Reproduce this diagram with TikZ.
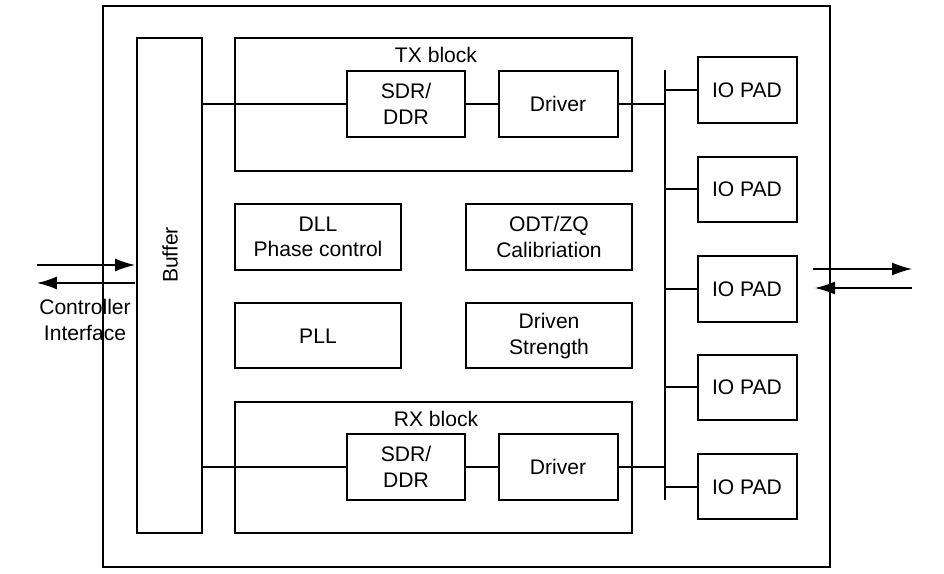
\documentclass[tikz,border=0pt]{standalone}
\usepackage{fontspec}
\setmainfont{Liberation Sans}
\usetikzlibrary{arrows.meta}
\tikzset{blk/.style={draw,thick,inner sep=0pt,align=center},
	lbl/.style={inner sep=0pt,align=center},
	io/.style={-{Latex[length=0.4cm,width=0.26cm]}}}
\begin{document}
\begin{tikzpicture}[x=0.02cm,y=-0.02cm,thick,node font=\fontsize{12}{14.5}\selectfont]
	\useasboundingbox (0,0) rectangle (944,574);
	\draw (103,6) rectangle (830,567);
	% buffer
	\draw (137,38) rectangle (202,533);
	\node[lbl,rotate=90] (buf) at (170,255) {Buffer};
	% tx block
	\draw (235,38) rectangle (632,171);
	\node[lbl] (tx) at (436,55) {TX block};
	\draw (347,71) rectangle (465,137);
	\node[lbl] (txsdr) at (406,104) {SDR/\\DDR};
	\draw (499,71) rectangle (618,137);
	\node[lbl] (txdrv) at (558,104) {Driver};
	\draw (202,104)-- (347,104);
	\draw (465,104)-- (499,104);
	\draw (618,104)-- (665,104);
	% middle blocks
	\draw (235,204) rectangle (401,270);
	\node[lbl] (dll) at (318,237) {DLL\\Phase control};
	\draw (466,204) rectangle (632,270);
	\node[lbl] (odt) at (549,237) {ODT/ZQ\\Calibriation};
	\draw (235,303) rectangle (401,368);
	\node[lbl] (pll) at (318,336) {PLL};
	\draw (466,303) rectangle (632,368);
	\node[lbl] (drs) at (549,336) {Driven\\Strength};
	% rx block
	\draw (235,402) rectangle (632,533);
	\node[lbl] (rx) at (436,419) {RX block};
	\draw (347,434) rectangle (465,500);
	\node[lbl] (rxsdr) at (406,467) {SDR/\\DDR};
	\draw (499,434) rectangle (618,500);
	\node[lbl] (rxdrv) at (558,467) {Driver};
	\draw (202,467)-- (347,467);
	\draw (465,467)-- (499,467);
	\draw (618,467)-- (665,467);
	% io pads
	\draw (665,70)-- (665,500);
	\foreach \y/\t/\b in {90/57/123,189/157/222,289/256/322,387/355/420,487/454/519} {
		\draw (698,\t) rectangle (797,\b);
		\node[lbl] (pad\y) at (747,\y) {IO PAD};
		\draw (665,\y)-- (698,\y);
	}
	% interfaces
	\draw [io] (37,265)-- (135,265);
	\draw [io] (135,283)-- (37,283);
	\node[lbl] (ctrl) at (85,320) {Controller\\Interface};
	\draw [io] (813,269)-- (912,269);
	\draw [io] (912,288)-- (815,288);
\end{tikzpicture}
\end{document}
